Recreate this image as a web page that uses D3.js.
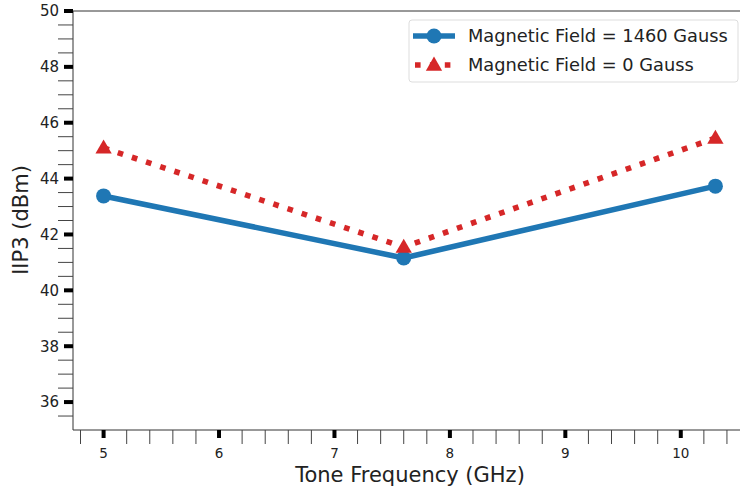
<!DOCTYPE html>
<html>
<head>
<meta charset="utf-8">
<script src="https://cdn.jsdelivr.net/npm/d3@7"></script>
<style>
  body { margin: 0; background: #fff; }
  svg { font-family: "DejaVu Sans", sans-serif; }
</style>
</head>
<body>
<div id="chart"></div>
<script>
// values
const freqs = [5, 7.6, 10.3]
const field1460 = [43.38, 41.16, 43.73]
const field0 = [45.1, 41.55, 45.45]
const yTicks = [36, 38, 40, 42, 44, 46, 48, 50]
const xTicks = [5, 6, 7, 8, 9, 10]
const seriesNames = ["Magnetic Field = 1460 Gauss", "Magnetic Field = 0 Gauss"]

const width = 740, height = 493
const margin = { left: 73, top: 11, right: -6, bottom: 63 }

const svg = d3.select("#chart").append("svg")
  .attr("width", width)
  .attr("height", height)

const x = d3.scaleLinear().domain([4.735, 10.565]).range([margin.left, width - margin.right])
const y = d3.scaleLinear().domain([35, 50]).range([height - margin.bottom, margin.top])

const blue = "#1f77b4", red = "#d62728"

// spines
const g = svg.append("g")
g.append("line").attr("x1", x.range()[0]).attr("x2", x.range()[1])
  .attr("y1", y(50)).attr("y2", y(50)).attr("stroke", "#333").attr("stroke-width", 1)
g.append("line").attr("x1", x.range()[0]).attr("x2", x.range()[1])
  .attr("y1", y(35)).attr("y2", y(35)).attr("stroke", "#333").attr("stroke-width", 1)
g.append("line").attr("x1", x(4.735)).attr("x2", x(4.735))
  .attr("y1", y(35)).attr("y2", y(50)).attr("stroke", "#333").attr("stroke-width", 1)

// y minor ticks
const yMinor = d3.range(35.5, 50, 0.5).filter(v => !yTicks.includes(v))
g.selectAll(".ymin").data(yMinor).join("line")
  .attr("x1", margin.left - 15).attr("x2", margin.left)
  .attr("y1", d => y(d)).attr("y2", d => y(d))
  .attr("stroke", "#444").attr("stroke-width", 1)
// y major ticks
g.selectAll(".ymaj").data(yTicks).join("line")
  .attr("x1", margin.left - 9).attr("x2", margin.left)
  .attr("y1", d => y(d)).attr("y2", d => y(d))
  .attr("stroke", "#000").attr("stroke-width", 4)
g.selectAll(".ylab").data(yTicks).join("text")
  .attr("x", margin.left - 14).attr("y", d => y(d))
  .attr("dy", "0.36em").attr("text-anchor", "end")
  .attr("font-size", 15).attr("fill", "#222")
  .text(d => d)

// x minor ticks
const xMinor = d3.range(4.8, 10.6, 0.2).filter(v => !xTicks.some(t => Math.abs(t - v) < 1e-6))
g.selectAll(".xmin").data(xMinor).join("line")
  .attr("x1", d => x(d)).attr("x2", d => x(d))
  .attr("y1", y(35)).attr("y2", y(35) + 14)
  .attr("stroke", "#444").attr("stroke-width", 1)
g.selectAll(".xmaj").data(xTicks).join("line")
  .attr("x1", d => x(d)).attr("x2", d => x(d))
  .attr("y1", y(35)).attr("y2", y(35) + 8)
  .attr("stroke", "#000").attr("stroke-width", 4)
g.selectAll(".xlab").data(xTicks).join("text")
  .attr("x", d => x(d)).attr("y", y(35) + 23)
  .attr("dy", "0.36em").attr("text-anchor", "middle")
  .attr("font-size", 13.5).attr("fill", "#222")
  .text(d => d)

// axis labels
svg.append("text")
  .attr("x", 410).attr("y", 482)
  .attr("text-anchor", "middle").attr("font-size", 21).attr("fill", "#222")
  .text("Tone Frequency (GHz)")
svg.append("text")
  .attr("transform", `translate(28, 220) rotate(-90)`)
  .attr("text-anchor", "middle").attr("font-size", 21).attr("fill", "#222")
  .text("IIP3 (dBm)")

const line = d3.line().x(d => x(d[0])).y(d => y(d[1]))
const tri = d3.symbol().type(d3.symbolTriangle).size(115)

const plot = svg.append("g")
// red dotted
const redPts = freqs.map((f, i) => [f, field0[i]])
plot.append("path").datum(redPts)
  .attr("d", line).attr("fill", "none")
  .attr("stroke", red).attr("stroke-width", 5.6)
  .attr("stroke-dasharray", "5.6 9.3")
// blue solid
const bluePts = freqs.map((f, i) => [f, field1460[i]])
plot.append("path").datum(bluePts)
  .attr("d", line).attr("fill", "none")
  .attr("stroke", blue).attr("stroke-width", 5.6)
  .attr("stroke-linecap", "round").attr("stroke-linejoin", "round")
plot.selectAll(".dot").data(bluePts).join("circle")
  .attr("cx", d => x(d[0])).attr("cy", d => y(d[1])).attr("r", 7.5)
  .attr("fill", blue)
plot.selectAll(".tri").data(redPts).join("path")
  .attr("transform", d => `translate(${x(d[0])},${y(d[1]) + 1})`)
  .attr("d", tri).attr("fill", red)

// legend
const lg = svg.append("g").attr("transform", "translate(409, 20)")
lg.append("rect").attr("width", 329).attr("height", 62).attr("rx", 3)
  .attr("fill", "#fff").attr("fill-opacity", 0.8)
  .attr("stroke", "#ddd").attr("stroke-width", 1)
lg.append("line").attr("x1", 4).attr("x2", 46).attr("y1", 16).attr("y2", 16)
  .attr("stroke", blue).attr("stroke-width", 5.6)
lg.append("circle").attr("cx", 25).attr("cy", 16).attr("r", 7.5).attr("fill", blue)
lg.append("line").attr("x1", 6).attr("x2", 46).attr("y1", 45).attr("y2", 45)
  .attr("stroke", red).attr("stroke-width", 5.6)
  .attr("stroke-dasharray", "5.6 9.3")
lg.append("path").attr("transform", "translate(25,46)").attr("d", tri).attr("fill", red)
lg.selectAll(".lt").data(seriesNames).join("text")
  .attr("x", 59).attr("y", (d, i) => 16 + i * 29)
  .attr("dy", "0.36em").attr("font-size", 17.8).attr("fill", "#222")
  .text(d => d)
</script>
</body>
</html>
